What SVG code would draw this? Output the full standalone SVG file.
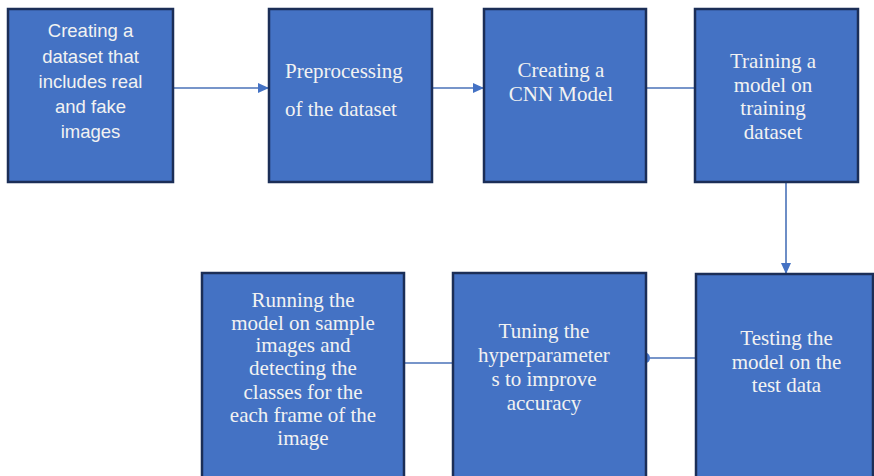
<svg xmlns="http://www.w3.org/2000/svg" width="874" height="476" viewBox="0 0 874 476">
<style>
.box{fill:#4472C4;stroke:#1B2E57;stroke-width:2.5}
.serif{font-family:"Liberation Serif","Times New Roman",serif;font-size:21px;fill:#F2F2F2;text-anchor:middle}
.sans{font-family:"Liberation Sans",Arial,sans-serif;font-size:18.5px;fill:#F2F2F2;text-anchor:middle}
.conn{stroke:#4A72B8;stroke-width:1.6;fill:none}
</style>
<defs>
<marker id="arr" markerWidth="11" markerHeight="10" refX="11" refY="5" orient="auto" markerUnits="userSpaceOnUse">
<path d="M0,0 L11,5 L0,10 Z" fill="#4472C4"/>
</marker>
</defs>
<rect width="874" height="476" fill="#ffffff"/>
<g id="connectors">
<line class="conn" x1="173" y1="88" x2="269" y2="88" marker-end="url(#arr)"/>
<line class="conn" x1="432" y1="88" x2="484" y2="88" marker-end="url(#arr)"/>
<line class="conn" x1="646" y1="88" x2="695" y2="88"/>
<line class="conn" x1="786" y1="182" x2="786" y2="274" marker-end="url(#arr)"/>
<line class="conn" x1="696" y1="358" x2="646" y2="358"/>
<path d="M646,353 A4,5 0 0 1 646,363 Z" fill="#4472C4"/>
<line class="conn" x1="453" y1="363" x2="404" y2="363"/>
</g>
<g id="n1">
<rect class="box" x="8" y="9" width="165" height="173"/>
<text class="sans" x="90.5" y="37">Creating a</text>
<text class="sans" x="90.5" y="62.5">dataset that</text>
<text class="sans" x="90.5" y="88">includes real</text>
<text class="sans" x="90.5" y="113">and fake</text>
<text class="sans" x="90.5" y="138">images</text>
</g>
<g id="n2">
<rect class="box" x="269" y="9" width="163" height="173"/>
<text class="serif" x="285" y="78" text-anchor="start" style="text-anchor:start">Preprocessing</text>
<text class="serif" x="285" y="116" style="text-anchor:start">of the dataset</text>
</g>
<g id="n3">
<rect class="box" x="484" y="9" width="162" height="173"/>
<text class="serif" x="561" y="77">Creating a</text>
<text class="serif" x="561" y="101">CNN Model</text>
</g>
<g id="n4">
<rect class="box" x="695" y="9" width="163" height="173"/>
<text class="serif" x="773" y="68">Training a</text>
<text class="serif" x="773" y="92">model on</text>
<text class="serif" x="773" y="115">training</text>
<text class="serif" x="773" y="139">dataset</text>
</g>
<g id="n5">
<rect class="box" x="696" y="274" width="177" height="210"/>
<text class="serif" x="786.5" y="345">Testing the</text>
<text class="serif" x="786.5" y="369">model on the</text>
<text class="serif" x="786.5" y="392">test data</text>
</g>
<g id="n6">
<rect class="box" x="453" y="273" width="193" height="211"/>
<text class="serif" x="544" y="338">Tuning the</text>
<text class="serif" x="544" y="362">hyperparameter</text>
<text class="serif" x="544" y="386">s to improve</text>
<text class="serif" x="544" y="410">accuracy</text>
</g>
<g id="n7">
<rect class="box" x="202" y="273" width="202" height="211"/>
<text class="serif" x="303" y="306.5">Running the</text>
<text class="serif" x="303" y="329.5">model on sample</text>
<text class="serif" x="303" y="352">images and</text>
<text class="serif" x="303" y="375">detecting the</text>
<text class="serif" x="303" y="398.5">classes for the</text>
<text class="serif" x="303" y="422">each frame of the</text>
<text class="serif" x="303" y="445">image</text>
</g>
</svg>
